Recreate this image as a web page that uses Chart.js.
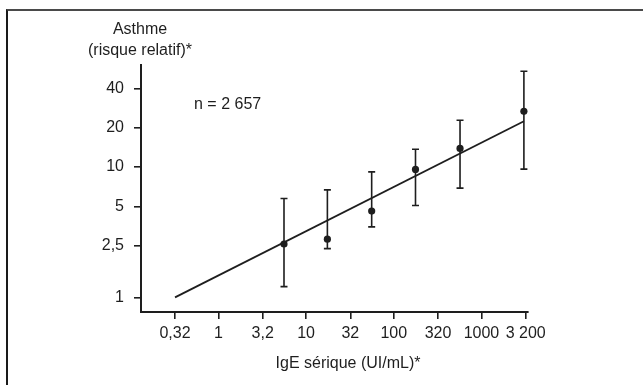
<!DOCTYPE html>
<html>
<head>
<meta charset="utf-8">
<script src="https://cdn.jsdelivr.net/npm/chart.js@4.4.1/dist/chart.umd.min.js"></script>
<style>
  html, body { margin: 0; padding: 0; background: #fff; overflow: hidden; }
  #wrap { position: relative; width: 643px; height: 385px; }
  #frame { position: absolute; left: 6px; top: 9px; right: -4px; bottom: -4px;
           border-top: 2px solid #4a4a4a; border-left: 2px solid #1a1a1a; }
  canvas { position: absolute; left: 0; top: 0; }
</style>
</head>
<body>
<div id="wrap">
  <div id="frame"></div>
  <canvas id="igeChart" width="643" height="385"></canvas>
</div>
<script>
// IgE sérique (UI/mL) vs asthme (risque relatif)
var igeX   = [5.6, 17.5, 56, 177, 570, 3050];
var rr     = [2.57, 2.80, 4.6, 9.6, 13.9, 26.8];
var rrLow  = [1.21, 2.37, 3.48, 5.07, 6.89, 9.65];
var rrHigh = [5.74, 6.69, 9.19, 13.7, 22.9, 54.3];

// droite de régression
var fitX = [0.32, 3050];
var fitY = [1, 22.5];

var xTicks = [0.32, 1, 3.2, 10, 32, 100, 320, 1000, 3200];
var xTickLabels = ['0,32', '1', '3,2', '10', '32', '100', '320', '1000', '3 200'];
var yTicks = [1, 2.5, 5, 10, 20, 40];
var yTickLabels = ['1', '2,5', '5', '10', '20', '40'];

var ink = '#1e1e1e';
var font = { family: '"Liberation Sans", Arial, sans-serif', size: 16 };

var errorBars = {
    id: 'errorBars',
    afterDatasetsDraw: function(chart) {
        var ctx = chart.ctx, xs = chart.scales.x, ys = chart.scales.y;
        ctx.save();
        ctx.strokeStyle = ink;
        ctx.lineWidth = 1.6;
        for (var i = 0; i < igeX.length; i++) {
            var px = xs.getPixelForValue(igeX[i]);
            var lo = ys.getPixelForValue(rrLow[i]);
            var hi = ys.getPixelForValue(rrHigh[i]);
            ctx.beginPath();
            ctx.moveTo(px, lo); ctx.lineTo(px, hi);
            ctx.moveTo(px - 3.5, lo); ctx.lineTo(px + 3.5, lo);
            ctx.moveTo(px - 3.5, hi); ctx.lineTo(px + 3.5, hi);
            ctx.stroke();
        }
        ctx.restore();
    }
};

var labels = {
    id: 'labels',
    afterDraw: function(chart) {
        var ctx = chart.ctx;
        ctx.save();
        ctx.fillStyle = ink;
        ctx.font = '16px ' + font.family;
        ctx.textBaseline = 'middle';
        ctx.textAlign = 'center';
        ctx.fillText('Asthme', 140, 30);
        ctx.fillText('(risque relatif)*', 140, 51);
        ctx.fillText('IgE sérique (UI/mL)*', 348, 364);
        ctx.textAlign = 'left';
        ctx.fillText('n = 2 657', 194, 105);
        ctx.restore();
    }
};

document.addEventListener('DOMContentLoaded', function() {
    var ctx = document.getElementById('igeChart').getContext('2d');
    var chart = new Chart(ctx, {
        type: 'scatter',
        data: {
            datasets: [{
                type: 'line',
                data: fitX.map(function(v, i) { return { x: v, y: fitY[i] }; }),
                borderColor: ink,
                borderWidth: 1.8,
                pointRadius: 0,
                fill: false
            }, {
                data: igeX.map(function(v, i) { return { x: v, y: rr[i] }; }),
                backgroundColor: ink,
                borderColor: ink,
                pointRadius: 3.6,
                pointBorderWidth: 0
            }]
        },
        options: {
            responsive: false,
            animation: false,
            layout: { padding: { left: 81, right: 115, top: 65, bottom: 23 } },
            plugins: {
                legend: { display: false },
                tooltip: { enabled: false }
            },
            scales: {
                x: {
                    type: 'logarithmic',
                    min: 0.131,
                    max: 3397,
                    afterBuildTicks: function(s) { s.ticks = xTicks.map(function(v) { return { value: v }; }); },
                    afterFit: function(s) { s.height = 50; },
                    ticks: {
                        autoSkip: false, maxRotation: 0, color: ink, font: font, padding: 5,
                        callback: function(v, i) { return xTickLabels[i]; }
                    },
                    grid: { drawOnChartArea: false, drawTicks: true, tickLength: 7, color: ink, lineWidth: 1.6 },
                    border: { display: true, color: ink, width: 2 }
                },
                y: {
                    type: 'logarithmic',
                    min: 0.773,
                    max: 60.7,
                    afterBuildTicks: function(s) { s.ticks = yTicks.map(function(v) { return { value: v }; }); },
                    afterFit: function(s) { s.width = 60; },
                    ticks: {
                        autoSkip: false, color: ink, font: font, padding: 10,
                        callback: function(v, i) { return yTickLabels[i]; }
                    },
                    grid: { drawOnChartArea: false, drawTicks: true, tickLength: 7, color: ink, lineWidth: 1.6 },
                    border: { display: true, color: ink, width: 2 }
                }
            }
        },
        plugins: [errorBars, labels]
    });
});
</script>
</body>
</html>
